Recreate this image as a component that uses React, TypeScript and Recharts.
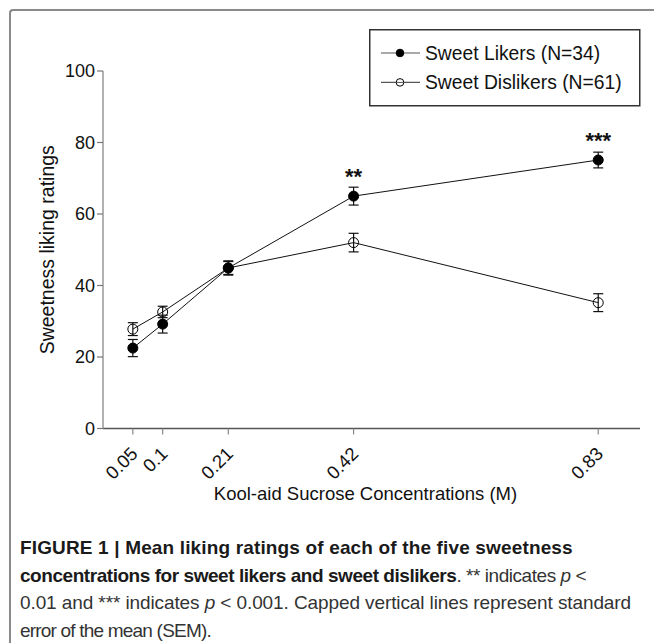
import React from "react";
import { ComposedChart, Line, XAxis, YAxis, ErrorBar, Legend, LabelList } from "recharts";

const concentrations = [0.05, 0.1, 0.21, 0.42, 0.83];
const likersMean = [22.5, 29.2, 44.9, 65.0, 75.1];
const likersSem = [2.4, 2.5, 2.0, 2.5, 2.2];
const dislikersMean = [27.8, 32.6, 44.9, 52.0, 35.2];
const dislikersSem = [1.8, 1.6, 1.8, 2.6, 2.5];
const significance = ["", "", "", "**", "***"];
const yTicks = [0, 20, 40, 60, 80, 100];
const seriesNames = ["Sweet Likers (N=34)", "Sweet Dislikers (N=61)"];

const FONT = "'Liberation Sans', Arial, Helvetica, sans-serif";

const data = concentrations.map((x, i) => ({
  x,
  lik: likersMean[i],
  likErr: likersSem[i],
  dis: dislikersMean[i],
  disErr: dislikersSem[i],
  sig: significance[i],
}));

function XTick({ x, y, payload }: any) {
  const tx = x + 6;
  const ty = y + 18.5;
  return (
    <text x={tx} y={ty} transform={`rotate(-45 ${tx} ${ty})`} textAnchor="end" fontSize={18.5} fill="#111" fontFamily={FONT}>
      {String(payload.value)}
    </text>
  );
}

function StarLabel({ x, y, value }: any) {
  if (!value) return null;
  return (
    <text x={x} y={y - 12} textAnchor="middle" fontSize={22} fontWeight="bold" fill="#111" fontFamily={FONT}>
      {value}
    </text>
  );
}

function YTitle({ viewBox }: any) {
  const cx = 54;
  const cy = viewBox.y + viewBox.height / 2;
  return (
    <text x={cx} y={cy} transform={`rotate(-90 ${cx} ${cy})`} textAnchor="middle" fontSize={19.5} fill="#111" fontFamily={FONT}>
      Sweetness liking ratings
    </text>
  );
}

function XTitle({ viewBox }: any) {
  const cx = viewBox.x + viewBox.width / 2 - 6;
  return (
    <text x={cx} y={499.5} textAnchor="middle" fontSize={18.5} fill="#111" fontFamily={FONT}>
      Kool-aid Sucrose Concentrations (M)
    </text>
  );
}

function LegendBox({ payload }: any) {
  const items = [...(payload || [])].sort(
    (a: any, b: any) => seriesNames.indexOf(a.value) - seriesNames.indexOf(b.value)
  );
  return (
    <svg width={272} height={78} style={{ display: "block" }}>
      <rect x={0.75} y={0.75} width={270} height={76} fill="#fff" stroke="#333" strokeWidth={1.5} />
      {items.map((p: any, i: number) => {
        const cy = 24 + i * 29.4;
        const filled = i === 0;
        return (
          <g key={i}>
            <line x1={12} x2={51} y1={cy} y2={cy} stroke="#555" strokeWidth={1.2} />
            <circle cx={31} cy={cy} r={3.8} fill={filled ? "#000" : "#fff"} stroke="#000" strokeWidth={1} />
            {!filled && <line x1={27} x2={35} y1={cy} y2={cy} stroke="#555" strokeWidth={1} />}
            <text x={56} y={cy} dy="0.36em" fontSize={19.3} fill="#111" fontFamily={FONT}>
              {p.value}
            </text>
          </g>
        );
      })}
    </svg>
  );
}

export default function App() {
  return (
    <div style={{ position: "absolute", left: 0, top: 0, width: 654, height: 643, background: "#fff", overflow: "hidden", fontFamily: FONT }}>
      <div
        style={{
          position: "absolute",
          left: 9,
          top: 9,
          right: -10,
          bottom: -10,
          borderTop: "2px solid #8a8a8a",
          borderLeft: "2px solid #8a8a8a",
          borderTopLeftRadius: 4,
        }}
      />
      <div style={{ position: "absolute", left: 0, top: 0 }}>
        <ComposedChart width={654} height={520} data={data} margin={{ top: 71, right: 14, left: 43, bottom: 16.5 }}>
          <XAxis
            type="number"
            dataKey="x"
            domain={[0, 0.9]}
            ticks={concentrations}
            tick={<XTick />}
            tickSize={6}
            axisLine={{ stroke: "#555", strokeWidth: 1.6 }}
            tickLine={{ stroke: "#888", strokeWidth: 1.2 }}
            height={75}
            label={(props: any) => <XTitle {...props} />}
          />
          <YAxis
            type="number"
            domain={[0, 100]}
            ticks={yTicks}
            width={60}
            tickSize={6}
            axisLine={{ stroke: "#999", strokeWidth: 1.5 }}
            tickLine={{ stroke: "#777", strokeWidth: 1.2 }}
            tick={{ fontSize: 18, fill: "#111", fontFamily: FONT }}
            label={(props: any) => <YTitle {...props} />}
          />
          <Legend
            verticalAlign="middle"
            align="center"
            layout="horizontal"
            content={<LegendBox />}
            wrapperStyle={{ left: 369, top: 29, width: 272, height: 78 }}
          />
          <Line
            name={seriesNames[0]}
            type="linear"
            dataKey="lik"
            stroke="#111"
            strokeWidth={1}
            dot={{ r: 5, fill: "#000", stroke: "#000", strokeWidth: 1 }}
            activeDot={false}
            isAnimationActive={false}
          >
            <ErrorBar dataKey="likErr" direction="y" width={5} stroke="#111" strokeWidth={1.2} />
            <LabelList dataKey="sig" content={<StarLabel />} />
          </Line>
          <Line
            name={seriesNames[1]}
            type="linear"
            dataKey="dis"
            stroke="#111"
            strokeWidth={1}
            dot={{ r: 5, fill: "none", stroke: "#000", strokeWidth: 1 }}
            activeDot={false}
            isAnimationActive={false}
          >
            <ErrorBar dataKey="disErr" direction="y" width={5} stroke="#111" strokeWidth={1.2} />
          </Line>
        </ComposedChart>
      </div>
      <div
        style={{
          position: "absolute",
          left: 20,
          top: 534,
          fontSize: 19,
          lineHeight: "27.5px",
          color: "#333",
          whiteSpace: "nowrap",
        }}
      >
        <div style={{ letterSpacing: "0.15px" }}>
          <b style={{ color: "#1a1a1a" }}>FIGURE 1 | Mean liking ratings of each of the five sweetness</b>
        </div>
        <div style={{ letterSpacing: "-0.45px" }}>
          <b style={{ color: "#1a1a1a" }}>concentrations for sweet likers and sweet dislikers</b>. ** indicates <i>p</i> &lt;
        </div>
        <div style={{ letterSpacing: "-0.1px" }}>
          0.01 and *** indicates <i>p</i> &lt; 0.001. Capped vertical lines represent standard
        </div>
        <div style={{ letterSpacing: "-0.8px" }}>error of the mean (SEM).</div>
      </div>
    </div>
  );
}
